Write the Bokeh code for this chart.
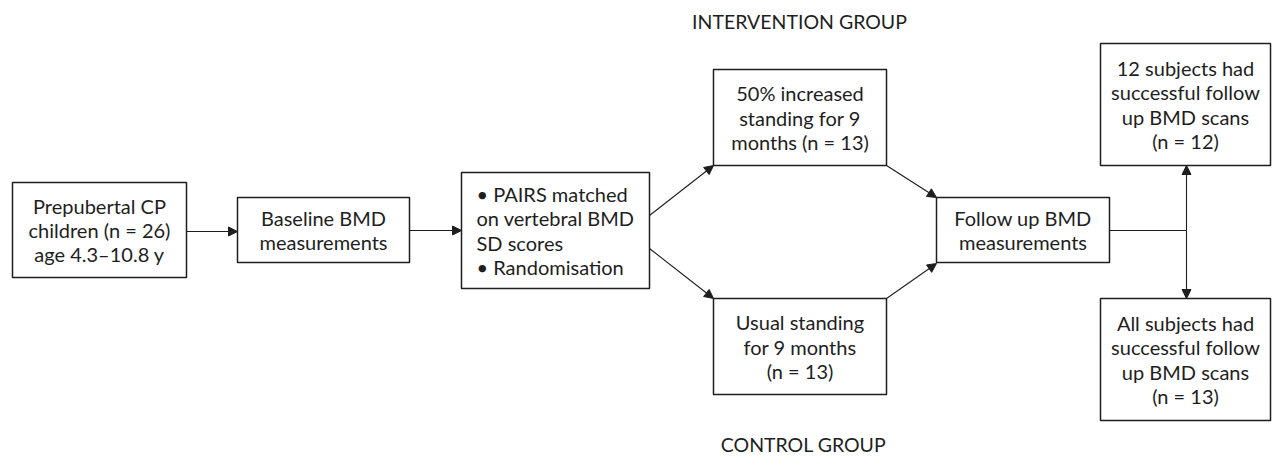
from bokeh.plotting import figure
from bokeh.models import Range1d, Arrow, NormalHead, ColumnDataSource
from bokeh.core.properties import value
from bokeh.embed import file_html
from bokeh.resources import INLINE

# ---- content ----
box_names = ["start", "baseline", "pairs", "interv", "control", "follow", "res12", "res13"]
box_texts = [
    ["Prepubertal CP", "children (n = 26)", "age 4.3\u201310.8 y"],
    ["Baseline BMD", "measurements"],
    ["\u2022 PAIRS matched", "on vertebral BMD", "SD scores", "\u2022 Randomisation"],
    ["50% increased", "standing for 9", "months (n = 13)"],
    ["Usual standing", "for 9 months", "(n = 13)"],
    ["Follow up BMD", "measurements"],
    ["12 subjects had", "successful follow", "up BMD scans", "(n = 12)"],
    ["All subjects had", "successful follow", "up BMD scans", "(n = 13)"],
]
group_labels = ["INTERVENTION GROUP", "CONTROL GROUP"]

# ---- layout (pixel coords, y downward) ----
layout = {
    "start":    (12, 186, 182, 277),
    "baseline": (237, 409, 197, 262),
    "pairs":    (461, 649, 172, 288),
    "interv":   (713, 886, 69, 165),
    "control":  (713, 886, 298, 394),
    "follow":   (936, 1109, 197, 262),
    "res12":    (1100, 1270, 43, 165),
    "res13":    (1100, 1270, 298, 420),
}
left_aligned = {"pairs"}

W, H = 1273, 457
FONT = "Lato"
INK = "#1e1e1e"

p = figure(width=W, height=H, output_backend="svg", toolbar_location=None,
           x_range=Range1d(0, W), y_range=Range1d(H, 0),
           min_border=0, tools="")
p.axis.visible = False
p.grid.visible = False
p.outline_line_color = None
p.background_fill_color = "white"
p.border_fill_color = "white"

# boxes
xs, ys = [], []
for n in box_names:
    x0, x1, y0, y1 = layout[n]
    xs.append([x0, x1, x1, x0])
    ys.append([y0, y0, y1, y1])
p.patches(xs, ys, fill_color="white", line_color=INK, line_width=1.5)

# texts
LH = 24.3
tx, ty, tt, ta = [], [], [], []
for n, lines in zip(box_names, box_texts):
    x0, x1, y0, y1 = layout[n]
    cy = (y0 + y1) / 2
    k = len(lines)
    for i, s in enumerate(lines):
        y = cy + (i - (k - 1) / 2) * LH
        if n in left_aligned:
            tx.append(x0 + 15); ta.append("left")
        else:
            tx.append((x0 + x1) / 2); ta.append("center")
        ty.append(y); tt.append(s)
src = ColumnDataSource(dict(x=tx, y=ty, text=tt, align=ta))
p.text("x", "y", text="text", source=src, text_align="align", text_baseline="middle",
       text_font=value(FONT), text_font_size="20px", text_color=INK)

# group labels
p.text([799, 803], [21, 444], text=group_labels, text_align="center", text_baseline="middle",
       text_font=value(FONT), text_font_size="19.5px", text_color=INK)

# connectors
arrows = [
    (186, 231, 237, 231),
    (409, 230, 461, 230),
    (649, 215, 713, 165),
    (649, 248, 713, 298),
    (886, 165, 936, 197),
    (886, 298, 936, 263),
    (1186, 230, 1186, 165),
    (1186, 230, 1186, 298),
]
for (xa, ya, xb, yb) in arrows:
    p.add_layout(Arrow(end=NormalHead(size=9, fill_color=INK, line_color=INK, line_width=1),
                       x_start=xa, y_start=ya, x_end=xb, y_end=yb,
                       line_color=INK, line_width=1.1))
p.line([1109, 1186], [230, 230], line_color=INK, line_width=1.1)

open("out.html", "w").write(file_html(p, INLINE))
